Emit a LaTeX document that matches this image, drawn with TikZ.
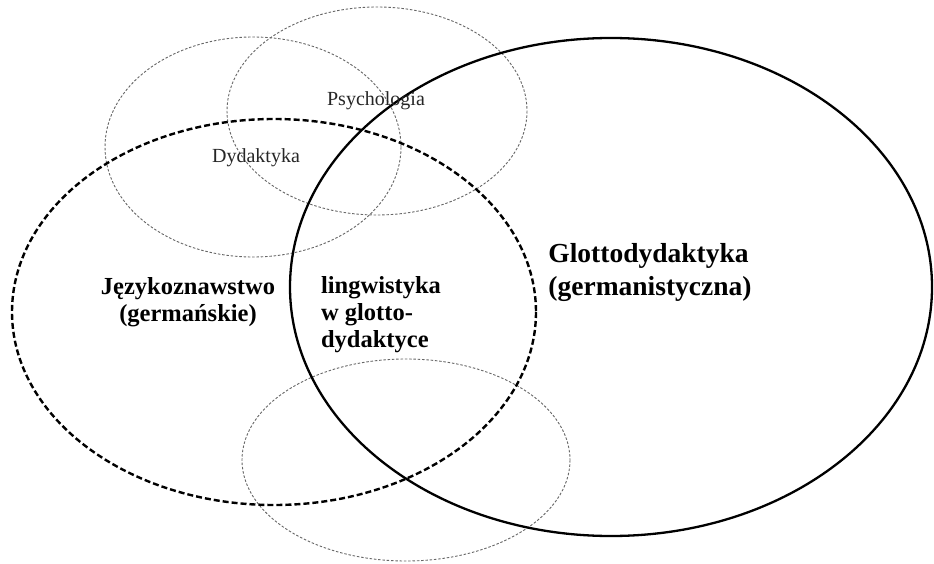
\documentclass[tikz,border=0pt]{standalone}
\usepackage{fontspec}
\setmainfont{Liberation Serif}
\begin{document}
\begin{tikzpicture}[x=1pt,y=-1pt,
  thin ring/.style={draw=black!60, line width=0.9pt, dash pattern=on 2.5pt off 1.8pt},
  dashed ring/.style={draw=black, line width=2.4pt, dash pattern=on 6pt off 3pt},
  solid ring/.style={draw=black, line width=2.3pt},
  small label/.style={font=\fontsize{20}{22}\selectfont, text=black!85, inner sep=0pt},
  big label/.style={font=\fontsize{24.5}{27}\selectfont\bfseries, align=center, inner sep=0pt},
  bigger label/.style={font=\fontsize{27.5}{33}\selectfont\bfseries, align=left, inner sep=0pt}]
\useasboundingbox (0,0) rectangle (934,564);
\path[fill=white] (0,0) rectangle (934,564);
% thin dotted rings
\draw[thin ring] (253,147) ellipse [x radius=148, y radius=110];
\draw[thin ring] (377,111) ellipse [x radius=150, y radius=104];
\draw[thin ring] (406,460) ellipse [x radius=164, y radius=101];
% main rings
\draw[dashed ring] (274,312) ellipse [x radius=262, y radius=193];
\draw[solid ring] (611,287) ellipse [x radius=321, y radius=249];
% labels
\node[small label] (psy) at (376,101) {Psychologia};
\node[small label] (dyd) at (256,158) {Dydaktyka};
\node[big label] (jez) at (188,302) {Językoznawstwo\\(germańskie)};
\node[big label, align=left] (lin) at (381,315) {lingwistyka\\w glotto-\\dydaktyce};
\node[bigger label] (glo) at (650,272) {Glottodydaktyka\\(germanistyczna)};
\end{tikzpicture}
\end{document}
